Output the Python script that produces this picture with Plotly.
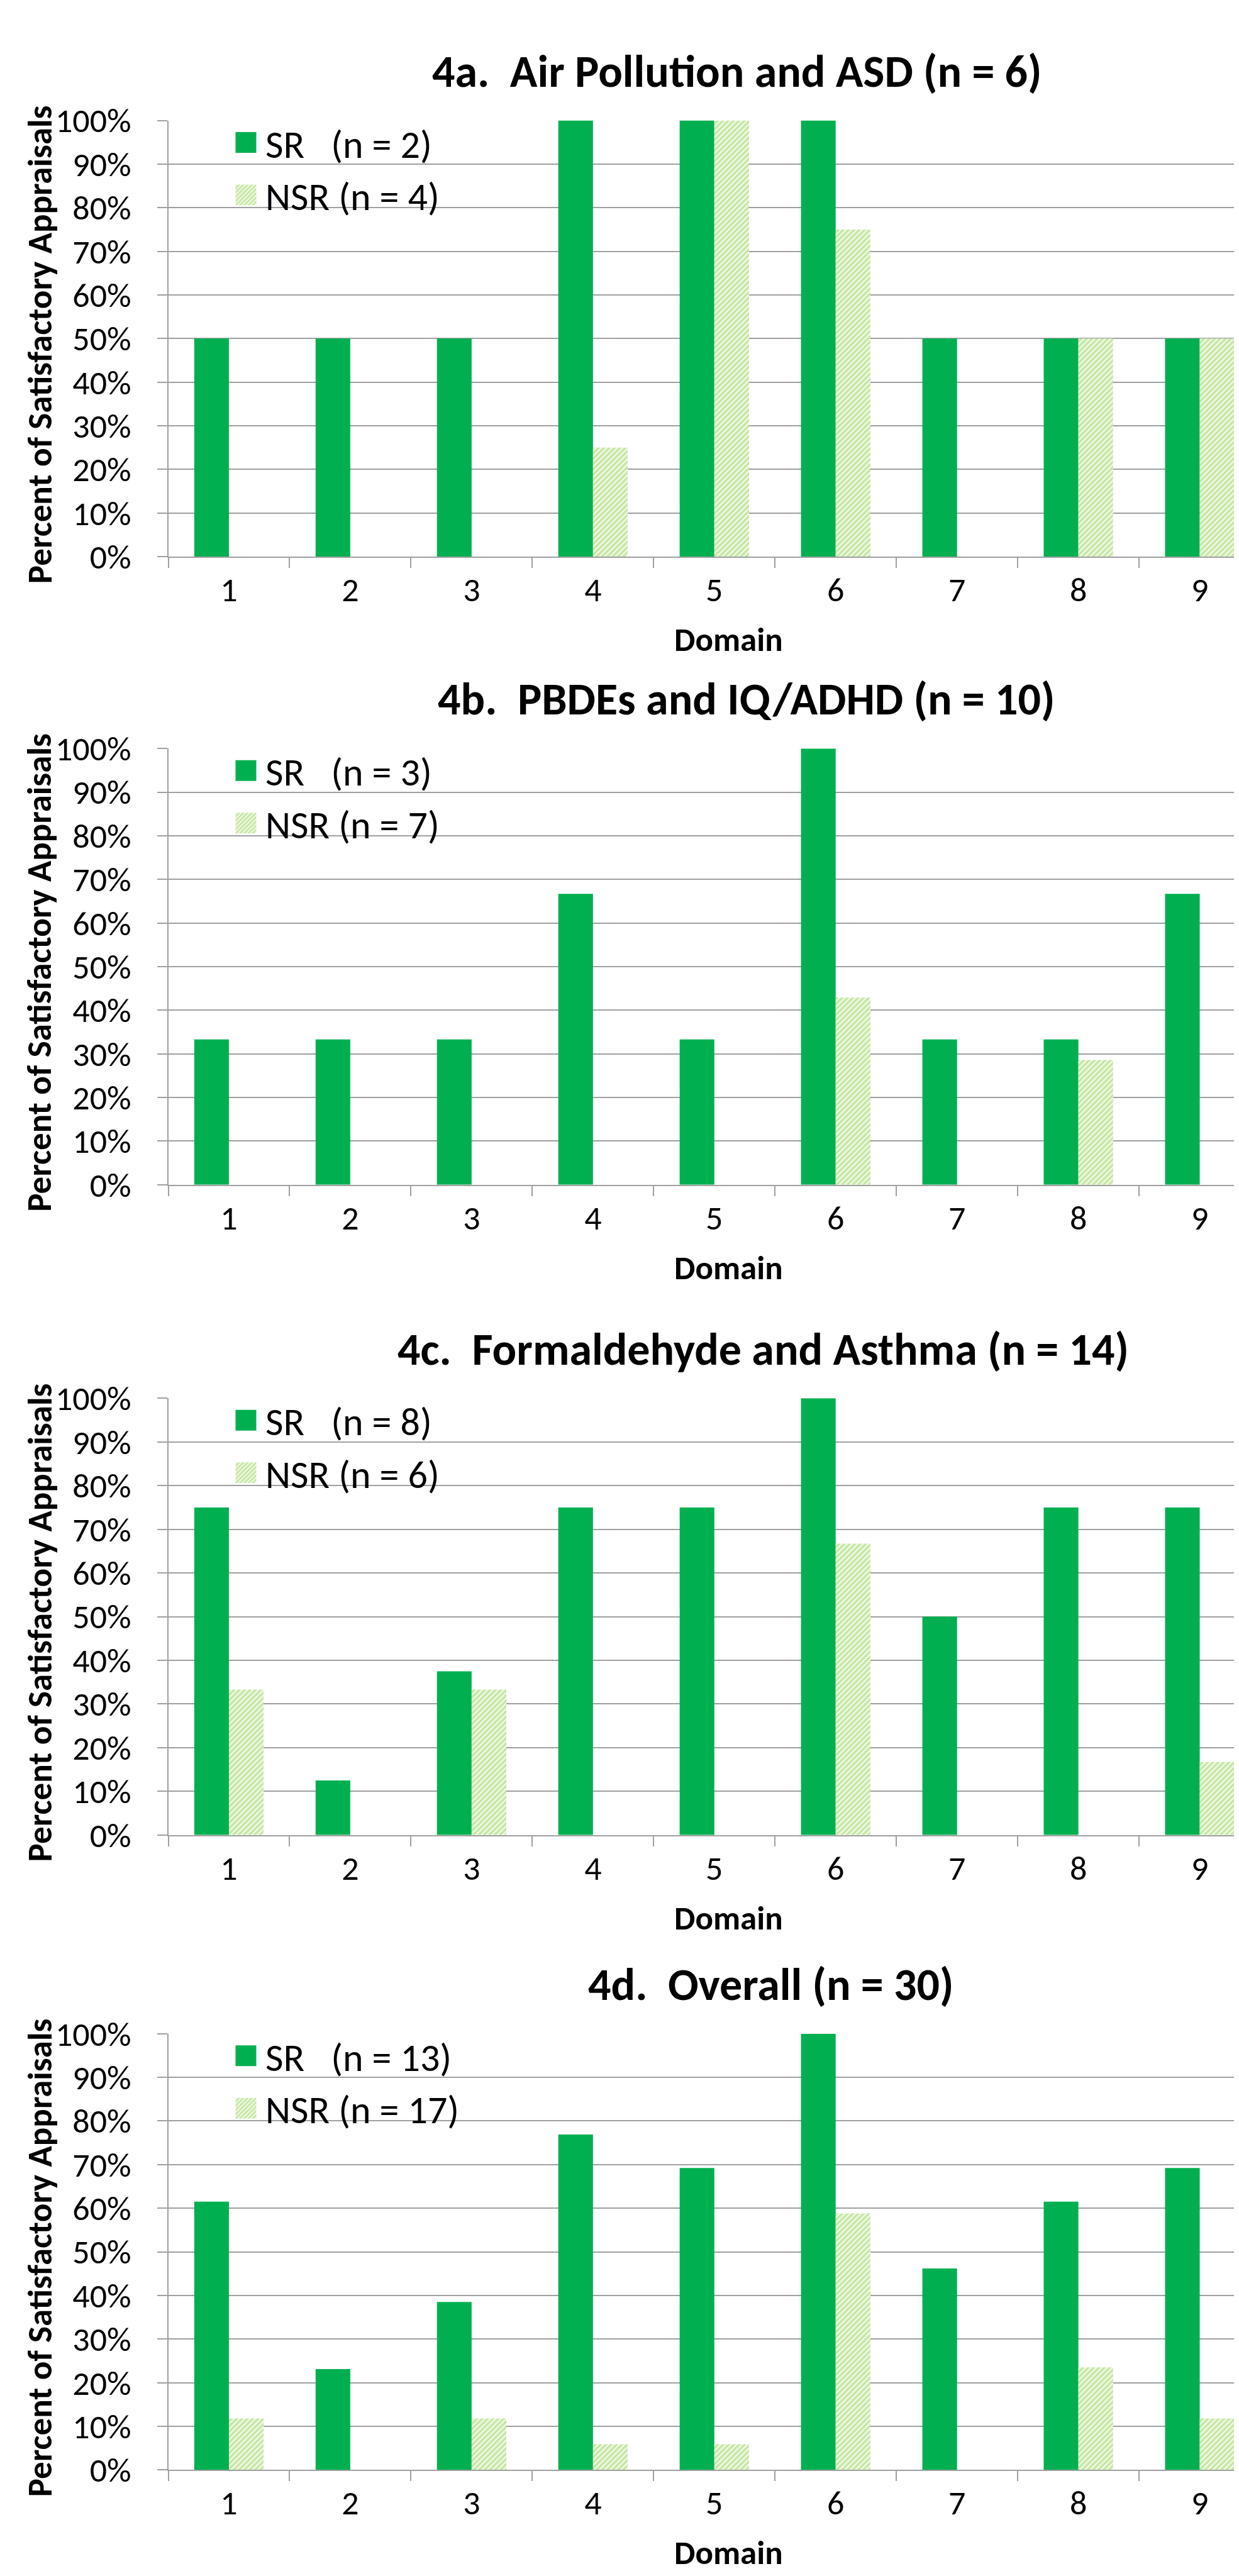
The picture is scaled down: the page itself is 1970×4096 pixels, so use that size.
import plotly.graph_objects as go

# ---------------- data ----------------
domains = ["1", "2", "3", "4", "5", "6", "7", "8", "9"]

titles = [
    "4a.\u00a0\u00a0Air Pollution and ASD (n = 6)",
    "4b.\u00a0\u00a0PBDEs and IQ/ADHD (n = 10)",
    "4c.\u00a0\u00a0Formaldehyde and Asthma (n = 14)",
    "4d.\u00a0\u00a0Overall (n = 30)",
]
sr_names = ["SR\u00a0\u00a0\u00a0(n = 2)", "SR\u00a0\u00a0\u00a0(n = 3)",
            "SR\u00a0\u00a0\u00a0(n = 8)", "SR\u00a0\u00a0\u00a0(n = 13)"]
nsr_names = ["NSR (n = 4)", "NSR (n = 7)", "NSR (n = 6)", "NSR (n = 17)"]

sr_4a = [50, 50, 50, 100, 100, 100, 50, 50, 50]
nsr_4a = [0, 0, 0, 25, 100, 75, 0, 50, 50]
sr_4b = [33.3, 33.3, 33.3, 66.7, 33.3, 100, 33.3, 33.3, 66.7]
nsr_4b = [0, 0, 0, 0, 0, 42.9, 0, 28.6, 0]
sr_4c = [75, 12.5, 37.5, 75, 75, 100, 50, 75, 75]
nsr_4c = [33.3, 0, 33.3, 0, 0, 66.7, 0, 0, 16.7]
sr_4d = [61.5, 23.1, 38.5, 76.9, 69.2, 100, 46.2, 61.5, 69.2]
nsr_4d = [11.8, 0, 11.8, 5.9, 5.9, 58.8, 0, 23.5, 11.8]

y_tickvals = [0, 10, 20, 30, 40, 50, 60, 70, 80, 90, 100]
y_ticktext = ["0%", "10%", "20%", "30%", "40%", "50%", "60%", "70%", "80%", "90%", "100%"]
y_title = "Percent of Satisfactory Appraisals"
x_title = "Domain"

sr_series = [sr_4a, sr_4b, sr_4c, sr_4d]
nsr_series = [nsr_4a, nsr_4b, nsr_4c, nsr_4d]

# ---------------- layout geometry (px) ----------------
W, H = 1970, 4096
tops = [154, 1169, 2219, 3246]      # 100% line
bots = [859, 1874, 2925, 3951]      # 0% line
x_left = 259.5
title_dy = 80
xtitle_dy = 134
title_x = [1163, 1178, 1205, 1217]

SR_COLOR = "#00B050"
NSR_COLOR = "#92D050"
GRID = "#A0A0A0"
FONT = "Carlito, Calibri, Lato, sans-serif"

fig = go.Figure()
annotations = []
layout_extra = {}

for i in range(4):
    sfx = "" if i == 0 else str(i + 1)
    xa = "x" + sfx
    ya = "y" + sfx
    lg = "legend" + sfx
    fig.add_trace(go.Bar(
        x=domains, y=sr_series[i], name=sr_names[i], xaxis=xa, yaxis=ya,
        marker=dict(color=SR_COLOR, line=dict(width=0)),
        legend=lg, showlegend=True,
    ))
    fig.add_trace(go.Bar(
        x=domains, y=nsr_series[i], name=nsr_names[i], xaxis=xa, yaxis=ya,
        marker=dict(color="white", line=dict(width=0),
                    pattern=dict(shape="/", fgcolor=NSR_COLOR, bgcolor="white",
                                 size=6, solidity=0.7)),
        legend=lg, showlegend=True,
    ))
    y0 = 1 - bots[i] / H
    y1 = 1 - tops[i] / H
    layout_extra["xaxis" + sfx] = dict(
        domain=[x_left / W, 1.0], anchor=ya, type="category",
        range=[-0.5, 8.365], tickson="boundaries", ticks="outside",
        ticklen=16, tickwidth=2, tickcolor=GRID, showline=True,
        linecolor=GRID, linewidth=2, showgrid=False, zeroline=False,
        tickfont=dict(family=FONT, size=54, color="black"),
        ticklabelstandoff=4, fixedrange=True,
    )
    layout_extra["yaxis" + sfx] = dict(
        domain=[y0, y1], anchor=xa, range=[0, 100],
        tickvals=y_tickvals, ticktext=y_ticktext,
        ticks="outside", ticklen=16, tickwidth=2,
        tickcolor=GRID, showline=True, linecolor=GRID, linewidth=2,
        showgrid=True, gridcolor=GRID, gridwidth=2, zeroline=False,
        tickfont=dict(family=FONT, size=54, color="black"),
        ticklabelstandoff=30, fixedrange=True,
    )
    layout_extra[lg] = dict(
        x=352 / W, y=1 - (tops[i] - 12) / H, xanchor="left", yanchor="top",
        bgcolor="rgba(0,0,0,0)", borderwidth=0,
        font=dict(family=FONT, size=62, color="black"),
        itemwidth=52, traceorder="normal",
    )
    annotations.append(dict(
        text="<b>" + titles[i] + "</b>", xref="paper", yref="paper",
        x=title_x[i] / W, y=1 - (tops[i] - title_dy) / H,
        xanchor="center", yanchor="middle", showarrow=False,
        font=dict(family=FONT, size=72, color="black"),
    ))
    annotations.append(dict(
        text="<b>" + y_title + "</b>", xref="paper", yref="paper",
        x=55 / W, y=1 - ((tops[i] + bots[i]) / 2 + 10) / H, textangle=-90,
        xanchor="center", yanchor="middle", showarrow=False,
        font=dict(family=FONT, size=55, color="black"),
    ))
    annotations.append(dict(
        text="<b>" + x_title + "</b>", xref="paper", yref="paper",
        x=1150 / W, y=1 - (bots[i] + xtitle_dy) / H,
        xanchor="center", yanchor="middle", showarrow=False,
        font=dict(family=FONT, size=53, color="black"),
    ))

fig.update_layout(
    width=W, height=H, margin=dict(l=0, r=0, t=0, b=0),
    paper_bgcolor="white", plot_bgcolor="white",
    barmode="group", bargap=1.5 / 3.5, bargroupgap=0,
    annotations=annotations, font=dict(family=FONT, color="black"),
    **layout_extra,
)

post = """
var gd = document.getElementById('{plot_id}');
gd.querySelectorAll('.legendpoints path').forEach(function(p){
  p.setAttribute('d','M16.5,16.5H-16.5V-16.5H16.5Z');
});
"""
fig.write_html("out.html", post_script=post, config={"staticPlot": True})
